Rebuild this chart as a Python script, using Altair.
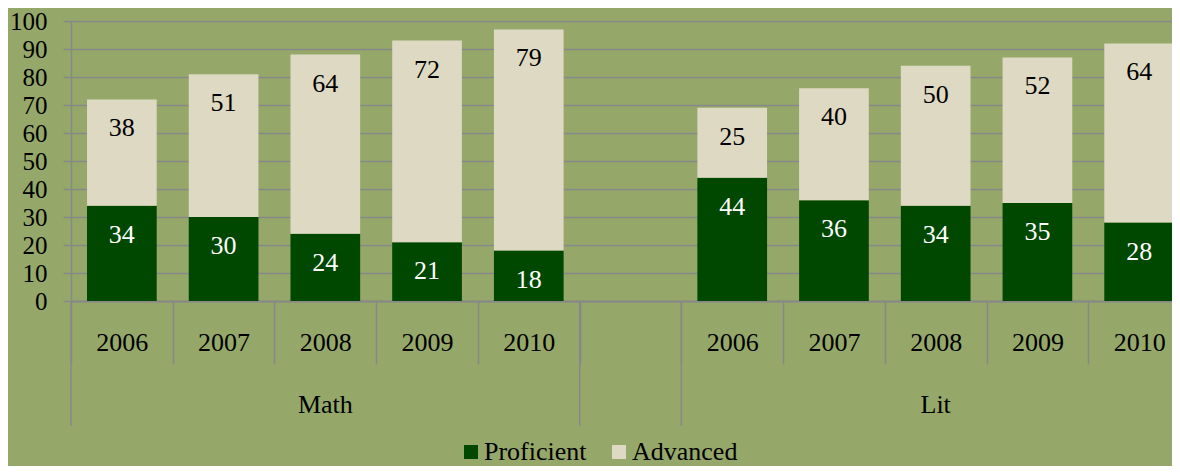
import altair as alt
import pandas as pd

years = ["2006", "2007", "2008", "2009", "2010"]
subjects = ["Math", "Lit"]
series = ["Proficient", "Advanced"]
math_proficient = [34, 30, 24, 21, 18]
math_advanced = [38, 51, 64, 72, 79]
lit_proficient = [44, 36, 34, 35, 28]
lit_advanced = [25, 40, 50, 52, 64]
y_ticks = [0, 10, 20, 30, 40, 50, 60, 70, 80, 90, 100]

FONT = "Liberation Serif"
FS = 26
BG = "#95a86a"
GRID = "#888888"
PROF = "#004700"
ADV = "#ddd9c3"

GAP = "gap|"
keys = [f"Math|{y}" for y in years] + [GAP] + [f"Lit|{y}" for y in years]

rows = []
for subj, prof, adv in [("Math", math_proficient, math_advanced),
                        ("Lit", lit_proficient, lit_advanced)]:
    for y, p, a in zip(years, prof, adv):
        k = f"{subj}|{y}"
        rows.append(dict(key=k, series="Proficient", value=p, y0=0, y1=p))
        rows.append(dict(key=k, series="Advanced", value=a, y0=p, y1=p + a))
df = pd.DataFrame(rows)

df_sep = pd.DataFrame({"key": [keys[0], GAP, keys[6]]})
df_grp = pd.DataFrame({"subject": subjects,
                       "key": [f"{s}|{years[2]}" for s in subjects]})

xs = alt.Scale(domain=keys, range=[0, 1119], paddingInner=0, paddingOuter=0)
ys = alt.Scale(domain=[0, 100], nice=False)

x_axis = alt.Axis(title=None, labelExpr="split(datum.label, '|')[1]",
                  tickBand="extent", tickSize=63, tickColor=GRID, tickWidth=1.5,
                  domainColor=GRID, domainWidth=2, labelPadding=-22,
                  labelBaseline="middle", labelFont=FONT, labelFontSize=FS,
                  labelColor="black", labelAngle=0, grid=False, labelOverlap=False)
y_axis = alt.Axis(title=None, values=y_ticks, tickCount=len(y_ticks) + 5,
                  grid=True, labelOverlap=False,
                  gridColor=GRID, gridWidth=1.5, domainColor=GRID, domainWidth=1.5,
                  tickColor=GRID, tickSize=8, tickWidth=1.5, labelFont=FONT,
                  labelFontSize=25, labelPadding=16, labelColor="black")

bars = alt.Chart(df).mark_bar(width=alt.RelativeBandSize(0.685)).encode(
    x=alt.X("key:N", scale=xs, axis=x_axis),
    y=alt.Y("y0:Q", scale=ys, axis=y_axis),
    y2="y1:Q",
    color=alt.Color("series:N", scale=alt.Scale(domain=series, range=[PROF, ADV]),
                    legend=alt.Legend(title=None, orient="none", legendX=387,
                                      legendY=418, direction="horizontal",
                                      symbolType="square", symbolSize=196,
                                      symbolStrokeWidth=0, labelFont=FONT,
                                      labelFontSize=FS, labelColor="black",
                                      columnPadding=19, labelOffset=0, padding=0)),
)

labels = alt.Chart(df).mark_text(dy=29, baseline="middle", font=FONT, fontSize=FS).encode(
    x=alt.X("key:N", scale=xs, axis=x_axis),
    y=alt.Y("y1:Q", scale=ys, axis=y_axis),
    text="value:Q",
    color=alt.condition(alt.datum.series == "Proficient", alt.value("white"), alt.value("black")),
)

seps = alt.Chart(df_sep).mark_rule(color=GRID, strokeWidth=1.5).encode(
    x=alt.X("key:N", scale=xs, bandPosition=0, axis=x_axis),
    y=alt.value(280),
    y2=alt.value(405),
)

groups = alt.Chart(df_grp).mark_text(font=FONT, fontSize=FS, baseline="middle", color="black").encode(
    x=alt.X("key:N", scale=xs, axis=x_axis),
    y=alt.value(384),
    text="subject:N",
)

chart = alt.layer(bars, labels, seps, groups).properties(
    width=1101, height=280,
    padding={"left": 63, "top": 13, "right": 0, "bottom": 165},
    autosize=alt.AutoSizeParams(type="none"),
    background=BG,
).configure_view(strokeWidth=0)

chart.save("out.html", embed_options={"renderer": "svg", "actions": False})
